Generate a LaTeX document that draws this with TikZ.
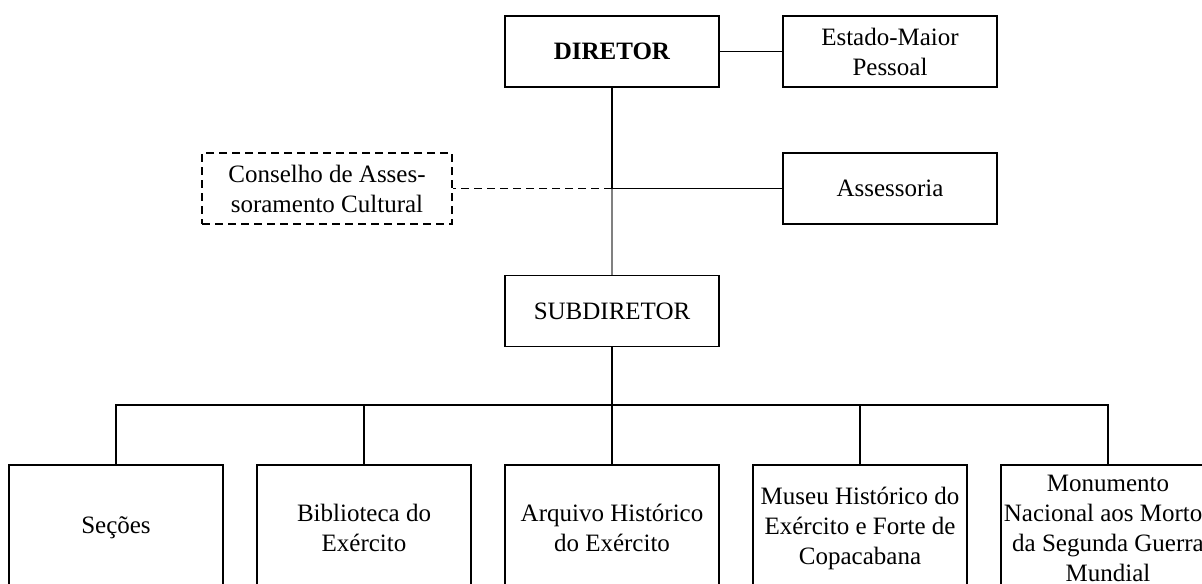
\documentclass[tikz,border=0pt]{standalone}
\usepackage{fontspec}
\setmainfont{Liberation Serif}
\usetikzlibrary{positioning}

\tikzset{
  unit/.style={draw, line width=0.8pt, minimum width=107pt, minimum height=35.5pt,
    align=center, inner sep=1pt, font=\fontsize{12.5}{15}\selectfont},
  lowunit/.style={unit, minimum height=63pt},
  council/.style={unit, minimum width=125pt, dash pattern=on 4pt off 2.5pt}
}

\begin{document}
\begin{tikzpicture}[line width=0.8pt,on grid,node distance=124pt]
    \useasboundingbox (0,0) rectangle (601pt,-291.5pt);
    \clip (0,0) rectangle (601pt,-291.5pt);
    \node[unit] (dir)      at (306pt,-25.75pt)           {\textbf{DIRETOR}};
    \node[unit] (emp)      [right=139pt of dir]          {Estado-Maior\\Pessoal};
    \node[unit] (ass)      [below=68.5pt of emp]         {Assessoria};
    \coordinate (j) at (dir |- ass);
    \node[council] (cons)  at ([xshift=-142.5pt]j)       {Conselho de Asses-\\soramento Cultural};
    \node[unit] (subdir)   [below=129.75pt of dir]       {SUBDIRETOR};
    % bottom row
    \node[lowunit] (arq)   [below=108.5pt of subdir]     {Arquivo Histórico\\do Exército};
    \node[lowunit] (bib)   [left=of arq]                 {Biblioteca do\\Exército};
    \node[lowunit] (sec)   [left=of bib]                 {Seções};
    \node[lowunit] (mus)   [right=of arq]                {Museu Histórico do\\Exército e Forte de\\Copacabana};
    \node[lowunit] (mon)   [right=of mus]                {Monumento\\Nacional aos Mortos\\da Segunda Guerra\\Mundial};
    \coordinate[above=29.5pt of arq.north] (bus);
    % top edges
    \draw (dir) -- (emp);
    \draw (dir.south) -- (j);
    \draw[gray] (j) -- (subdir.north);
    \draw (j) -- (ass);
    \draw[dash pattern=on 4pt off 2.5pt] (j) -- (cons);
    % bottom edges
    \draw (subdir) -- (arq);
    \draw (sec.north) |- (bus) -| (mon.north);
    \draw (bib.north) -- (bib.north |- bus);
    \draw (mus.north) -- (mus.north |- bus);
\end{tikzpicture}
\end{document}
